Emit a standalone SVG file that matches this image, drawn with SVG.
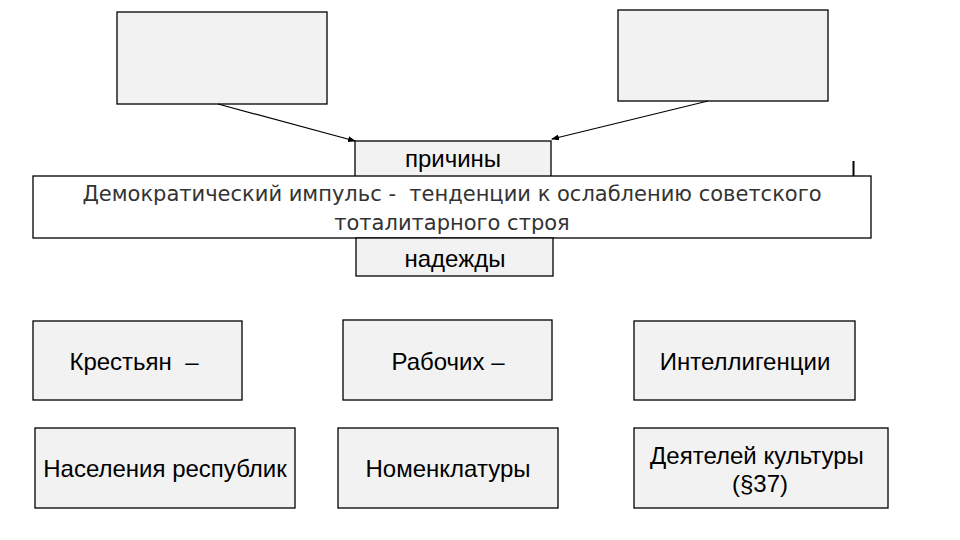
<svg xmlns="http://www.w3.org/2000/svg" width="960" height="540" viewBox="0 0 960 540">
<defs>
<style>
.box{fill:#f2f2f2;stroke:#000;stroke-width:1.3}
.t{font-family:"Liberation Sans",Arial,sans-serif;font-size:24px;fill:#000;text-anchor:middle;white-space:pre}
.s{font-family:"Liberation Sans",Arial,sans-serif;font-size:24px;fill:#000;text-anchor:middle}
.b{font-family:"DejaVu Sans",Verdana,sans-serif;font-size:21px;fill:#333;text-anchor:middle;white-space:pre}
.c{stroke:#000;stroke-width:1.2;fill:none}
</style>
<marker id="ah" markerWidth="8" markerHeight="6" refX="7" refY="3" orient="auto" markerUnits="userSpaceOnUse">
<path d="M0,0 L8,3 L0,6 z" fill="#000"/>
</marker>
</defs>
<rect width="960" height="540" fill="#fff"/>
<g id="top-left"><rect class="box" x="117" y="12" width="210" height="92"/></g>
<g id="top-right"><rect class="box" x="618" y="10" width="210" height="91"/></g>
<g id="prichiny"><rect class="box" x="355" y="141" width="196" height="45"/><text class="s" x="453" y="167">причины</text></g>
<g id="banner"><rect x="33" y="176" width="838" height="62" fill="#fff" stroke="#000" stroke-width="1.3"/>
<text class="b" x="452" y="201" xml:space="preserve">Демократический импульс -  тенденции к ослаблению советского</text>
<text class="b" x="452" y="230">тоталитарного строя</text></g>
<g id="nadezhdy"><rect class="box" x="356" y="238" width="197" height="38"/><text class="s" x="455" y="267">надежды</text></g>
<g id="krestyan"><rect class="box" x="33" y="321" width="209" height="79"/><text class="t" x="134" y="370" xml:space="preserve">Крестьян  –</text></g>
<g id="rabochih"><rect class="box" x="343" y="320" width="209" height="80"/><text class="t" x="448" y="370">Рабочих –</text></g>
<g id="intel"><rect class="box" x="634" y="321" width="221" height="79"/><text class="t" x="745" y="370">Интеллигенции</text></g>
<g id="naselenie"><rect class="box" x="35" y="428" width="260" height="80"/><text class="t" x="165" y="477">Населения республик</text></g>
<g id="nomenklatura"><rect class="box" x="338" y="428" width="220" height="80"/><text class="t" x="448" y="477">Номенклатуры</text></g>
<g id="deyateli"><rect class="box" x="634" y="428" width="254" height="80"/><text class="t" x="757" y="464">Деятелей культуры</text><text class="t" x="760" y="492">(§37)</text></g>
<g id="connectors">
<line class="c" x1="218" y1="104" x2="355" y2="141" marker-end="url(#ah)"/>
<line class="c" x1="708" y1="101" x2="552" y2="139" marker-end="url(#ah)"/>
<line x1="853.5" y1="161" x2="853.5" y2="176" stroke="#000" stroke-width="2"/>
</g>
</svg>
